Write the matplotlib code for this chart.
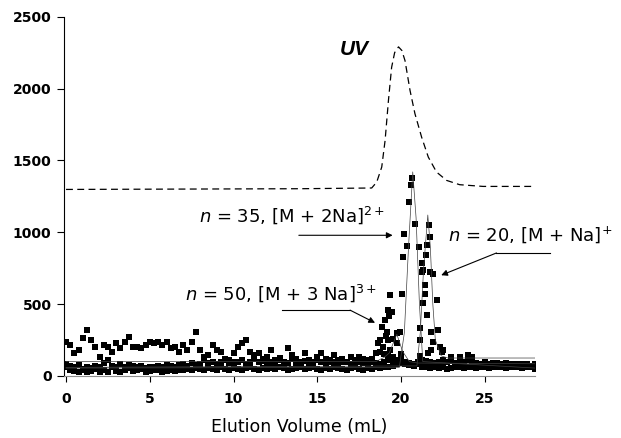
import numpy as np
import matplotlib.pyplot as plt

plt.rcParams['font.family'] = ['DejaVu Sans']
plt.rcParams['mathtext.fontset'] = 'custom'
plt.rcParams['mathtext.rm'] = 'DejaVu Sans'
plt.rcParams['mathtext.it'] = 'DejaVu Sans:italic'

# UV absorbance trace (offset upward)
uv_x = [0, 14.0, 18.25, 18.55, 18.85, 19.05, 19.25, 19.44, 19.62, 19.85, 20.05,
        20.24, 20.54, 20.83, 21.23, 21.63, 22.12, 22.72, 23.5, 24.9, 27.9]
uv_y = [1298, 1303, 1308, 1349, 1454, 1639, 1917, 2148, 2250, 2290, 2265,
        2194, 1986, 1826, 1662, 1523, 1419, 1361, 1331, 1319, 1319]

# ion traces, sampled every 0.25 mL from 0 to 28 mL
step = 0.25
ion50 = [238, 215, 158, 180, 262, 319, 250, 204, 134,
         215, 204, 169, 227, 192, 238, 273, 204,
         204, 192, 215, 238, 227, 238, 215, 238,
         192, 204, 169, 215, 180, 238, 308, 180,
         134, 146, 215, 180, 169, 120, 110, 158,
         204, 227, 250, 169, 146, 158, 120, 134,
         180, 110, 125, 100, 192, 146, 120, 95,
         158, 110, 100, 130, 158, 120, 100, 146,
         110, 120, 95, 134, 105, 134, 120, 110,
         120, 158, 169, 150, 140, 130, 110, 122,
         100, 90, 80, 85, 95, 80, 75, 90,
         85, 100, 95, 134, 90, 129, 85, 146,
         130, 90, 80, 95, 85, 90, 80, 85,
         90, 80, 85, 75, 80, 85, 70, 60]
ion35 = [60, 45, 35, 30, 40, 28, 35, 50, 30,
         45, 25, 60, 35, 30, 40, 55, 35,
         40, 50, 30, 35, 45, 40, 30, 35,
         40, 35, 45, 40, 50, 45, 55, 50,
         45, 55, 50, 45, 60, 50, 45, 55,
         50, 45, 55, 60, 50, 45, 55, 50,
         55, 50, 60, 55, 45, 50, 55, 60,
         50, 55, 60, 50, 45, 55, 50, 60,
         55, 50, 45, 55, 60, 50, 45, 55,
         50, 60, 55, 65, 60, 70, 90, 150,
         80, 75, 70, 90, 65, 60, 55, 60,
         55, 60, 50, 55, 60, 65, 55, 60,
         60, 55, 65, 60, 55, 60, 65, 60,
         55, 60, 65, 60, 55, 60, 65, 50]
ion20 = [80, 70, 60, 75, 50, 65, 55, 70, 60,
         90, 110, 70, 60, 80, 65, 75, 70,
         60, 70, 55, 65, 60, 70, 65, 75,
         70, 65, 75, 80, 70, 90, 75, 80,
         110, 90, 100, 85, 95, 110, 90, 100,
         95, 110, 85, 100, 120, 95, 105, 90,
         100, 85, 110, 95, 90, 115, 100, 85,
         105, 90, 95, 110, 100, 85, 110, 95,
         90, 100, 95, 85, 110, 100, 90, 95,
         100, 90, 85, 100, 110, 95, 85, 90,
         80, 90, 85, 100, 110, 105, 95, 90,
         100, 110, 95, 105, 90, 100, 95, 110,
         95, 90, 85, 90, 80, 85, 90, 80,
         80, 85, 75, 80, 85, 75, 70, 80]

# extra readings across the elution peaks
peak50_x = [18.6, 18.75, 18.85, 18.95, 19.05, 19.1, 19.15, 19.24, 19.24, 19.3,
            19.35, 19.35, 19.44, 19.54, 19.74, 19.74, 19.94, 20.04]
peak50_y = [230, 250, 343, 204, 389, 280, 308, 458, 250, 420,
            562, 181, 448, 257, 296, 227, 308, 569]
peak35_x = [20.14, 20.18, 20.34, 20.5, 20.6, 20.65, 20.83, 21.07]
peak35_y = [828, 991, 903, 1210, 1330, 1380, 1060, 894]
peak20_x = [21.13, 21.13, 21.13, 21.23, 21.23, 21.29, 21.33, 21.43, 21.43, 21.52,
            21.53, 21.58, 21.63, 21.69, 21.73, 21.73, 21.82, 21.82, 21.92, 21.92,
            22.12, 22.22, 22.32, 22.42, 22.52]
peak20_y = [331, 250, 136, 724, 783, 736, 505, 632, 567, 840,
            424, 910, 160, 1049, 967, 724, 308, 181, 713, 238,
            528, 319, 204, 169, 180]

# smoothed fits drawn as thin lines
fit50_x = [0, 18.5, 19.0, 19.3, 19.75, 20.1, 20.5, 21.0, 28]
fit50_y = [100, 100, 130, 160, 290, 170, 100, 90, 85]
fit35_x = [0, 19.9, 20.2, 20.45, 20.7, 20.9, 21.1, 21.3, 28]
fit35_y = [55, 60, 300, 900, 1420, 1100, 500, 100, 55]
fit20_x = [0, 20.95, 21.15, 21.35, 21.6, 21.75, 21.9, 22.05, 22.4, 22.8, 28]
fit20_y = [60, 70, 300, 750, 1120, 900, 500, 250, 140, 125, 125]

fig = plt.figure(figsize=(6.21, 4.38), dpi=100)
ax = fig.add_axes([0.1031, 0.1416, 0.7584, 0.8203])

ax.plot(uv_x, uv_y, color='k', lw=0.9, linestyle=(0, (5.5, 3.5)))

for fx, fy in [(fit50_x, fit50_y), (fit35_x, fit35_y), (fit20_x, fit20_y)]:
    ax.plot(fx, fy, color='0.25', lw=0.5)

for ys in [ion50, ion35, ion20]:
    xs = np.arange(len(ys)) * step
    ax.scatter(xs, ys, marker='s', s=14, color='k', linewidths=0)
for px, py in [(peak50_x, peak50_y), (peak35_x, peak35_y), (peak20_x, peak20_y)]:
    ax.scatter(px, py, marker='s', s=14, color='k', linewidths=0)

ax.set_xlim(-0.12, 28.0)
ax.set_ylim(0, 2500)
ax.set_xticks([0, 5, 10, 15, 20, 25])
ax.set_yticks([0, 500, 1000, 1500, 2000, 2500])
for spine in ['top', 'right']:
    ax.spines[spine].set_visible(False)
ax.spines['left'].set_linewidth(0.8)
ax.spines['bottom'].set_linewidth(0.8)
ax.spines['bottom'].set_color('0.55')
ax.tick_params(axis='y', length=5, width=0.8, pad=4, labelsize=10)
ax.tick_params(axis='x', length=4.5, width=0.8, pad=7, labelsize=10)
for lab in ax.get_xticklabels() + ax.get_yticklabels():
    lab.set_fontweight('bold')
ax.set_xlabel('Elution Volume (mL)', fontsize=12.5, labelpad=9)

# labels and arrows
ax.text(16.37, 2236, 'UV', fontsize=15, fontweight='bold', fontstyle='italic',
        family='Liberation Sans')
ax.text(7.92, 1071, r'$n$ = 35, [M + 2Na]$^{2+}$', fontsize=13, va='baseline')
ax.text(22.8, 944, r'$n$ = 20, [M + Na]$^{+}$', fontsize=13, va='baseline',
        clip_on=False)
ax.text(7.13, 528, r'$n$ = 50, [M + 3 Na]$^{3+}$', fontsize=13, va='baseline')

head = dict(arrowstyle='-|>', color='k', lw=0.8, mutation_scale=9,
            shrinkA=0, shrinkB=0)
ax.annotate('', xy=(19.5, 979), xytext=(13.9, 979), arrowprops=head)
ax.plot([28.9, 25.7], [856, 856], color='k', lw=0.8, clip_on=False)
ax.annotate('', xy=(22.4, 701), xytext=(25.7, 856), arrowprops=head,
            annotation_clip=False)
ax.plot([12.9, 16.96], [458, 458], color='k', lw=0.8)
ax.annotate('', xy=(18.45, 370), xytext=(16.96, 458), arrowprops=head)

fig.savefig('out.png', dpi=100)
